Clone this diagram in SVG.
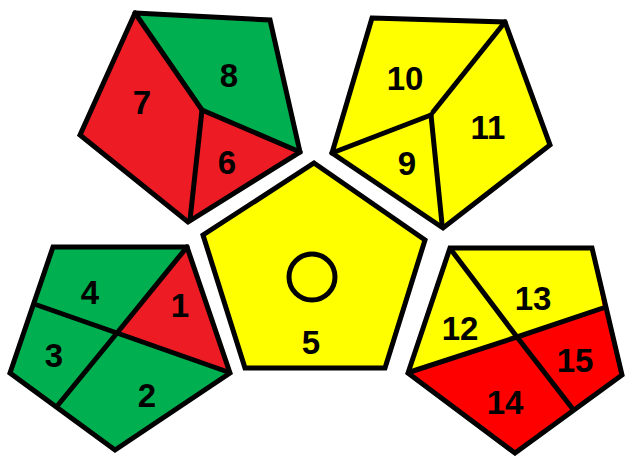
<svg xmlns="http://www.w3.org/2000/svg" width="626" height="456" viewBox="0 0 626 456">
<style>
.s{stroke:#000;stroke-width:5;stroke-linejoin:miter;stroke-linecap:round}
.g{fill:#00B050}
.r{fill:#ED1C24}
.rr{fill:#FF0000}
.y{fill:#FFFF00}
.l{fill:none;stroke:#000;stroke-width:5;stroke-linecap:round}
text{font-family:"Liberation Sans",Arial,sans-serif;font-weight:bold;font-size:33px;fill:#000;text-anchor:middle}
</style>
<rect width="626" height="456" fill="#fff"/>
<g id="pent-top-left">
<polygon class="r" points="135,13 202,110 188,222 80,135"/>
<polygon class="g" points="135,13 270,20 300,152 202,110"/>
<polygon class="r" points="202,110 300,152 188,222"/>
<polyline class="l" points="135,13 202,110 300,152"/>
<line class="l" x1="202" y1="110" x2="190" y2="220"/>
<polygon class="s" fill="none" points="135,13 270,20 300,152 188,222 80,135"/>
<text x="229" y="87">8</text>
<text x="142" y="114">7</text>
<text x="227" y="174">6</text>
</g>
<g id="pent-top-right">
<polygon class="y" points="372,18 505,22 550,145 443,228 332,153"/>
<line class="l" x1="505" y1="22" x2="433" y2="112"/>
<line class="l" x1="332" y1="153" x2="431" y2="115"/>
<line class="l" x1="431" y1="115" x2="442" y2="224"/>
<polygon class="s" fill="none" points="372,18 505,22 550,145 443,228 332,153"/>
<text x="405" y="90">10</text>
<text x="488" y="139">11</text>
<text x="407" y="175">9</text>
</g>
<g id="pent-center">
<polygon class="s y" points="314,163 425,240 385,368 245,368 203,235"/>
<circle cx="312" cy="277" r="23" fill="none" stroke="#000" stroke-width="5"/>
<text x="311" y="354">5</text>
</g>
<g id="pent-bottom-left">
<polygon class="g" points="53,247 187,247 230,373 115,450 10,373"/>
<polygon class="r" points="187,247 228,372 117,333"/>
<polyline class="l" points="187,247 117,333 58,405"/>
<polyline class="l" points="37,305 117,333 228,372"/>
<polygon class="s" fill="none" points="53,247 187,247 230,373 115,450 10,373"/>
<text x="90" y="304">4</text>
<text x="180" y="317">1</text>
<text x="54" y="367">3</text>
<text x="147" y="407">2</text>
</g>
<g id="pent-bottom-right">
<polygon class="rr" points="450,248 592,248 622,375 515,453 408,373"/>
<polygon class="y" points="450,248 592,248 603,308 517,337 410,372"/>
<polyline class="l" points="452,251 517,337 572,408"/>
<polyline class="l" points="410,372 517,337 603,308"/>
<polygon class="s" fill="none" points="450,248 592,248 622,375 515,453 408,373"/>
<text x="460" y="340">12</text>
<text x="533" y="310">13</text>
<text x="575" y="372">15</text>
<text x="505" y="414">14</text>
</g>
</svg>
